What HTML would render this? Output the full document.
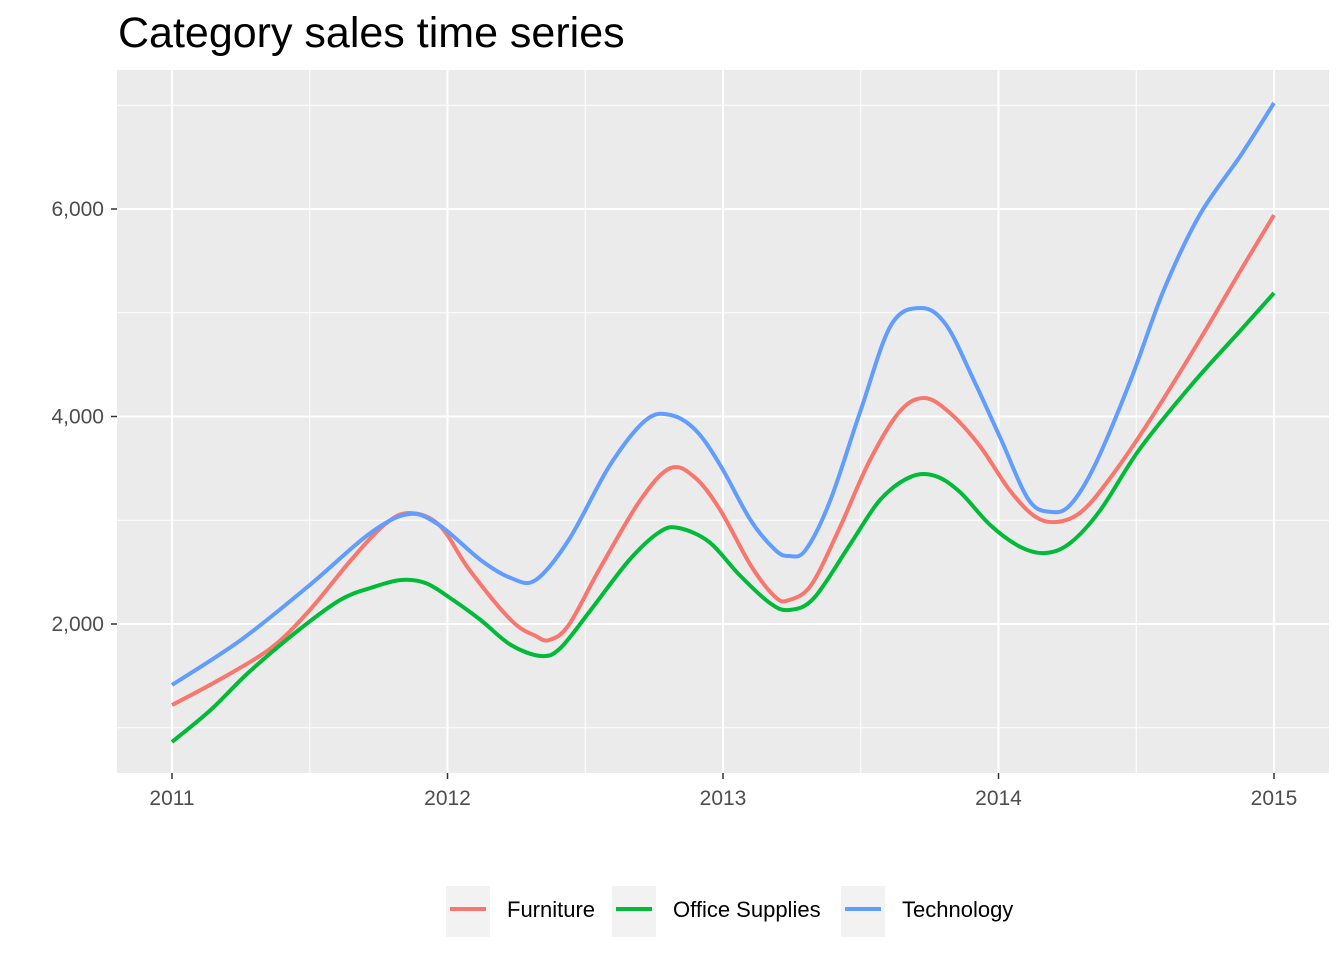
<!DOCTYPE html>
<html><head><meta charset="utf-8"><style>
body{margin:0;background:#fff;font-family:"Liberation Sans",Arial,sans-serif;}
</style></head><body>
<svg id="chart" width="1344" height="960" xmlns="http://www.w3.org/2000/svg">
<text x="118" y="47" font-size="43" fill="#000">Category sales time series</text>
<rect x="117" y="70" width="1212" height="703" fill="#ebebeb"/>
<g id="grid"></g>
<g id="lines"></g>
<g id="axes"></g>
<g id="legend"></g>
</svg>
<script>
const yearTicks = [2011, 2012, 2013, 2014, 2015];
const valueTicks = [2000, 4000, 6000];
const valueTickLabels = ["2,000", "4,000", "6,000"];
const minorValues = [1000, 3000, 5000, 7000];
const seriesNames = ["Furniture", "Office Supplies", "Technology"];
const seriesColors = ["#F8766D", "#00BA38", "#619CFF"];
const furnitureYears = [2011.00,2011.17,2011.36,2011.50,2011.65,2011.77,2011.86,2011.97,2012.08,2012.23,2012.32,2012.37,2012.44,2012.55,2012.70,2012.81,2012.90,2012.99,2013.10,2013.19,2013.24,2013.32,2013.42,2013.53,2013.64,2013.73,2013.82,2013.93,2014.04,2014.13,2014.21,2014.30,2014.40,2014.55,2014.73,2014.88,2015.00];
const furnitureValues = [1219,1460,1769,2135,2617,2954,3070,2954,2520,2039,1884,1846,1990,2520,3195,3504,3407,3099,2569,2260,2231,2376,2906,3561,4043,4178,4043,3724,3292,3041,2983,3080,3388,3966,4737,5412,5942];
const officeYears = [2011.00,2011.14,2011.28,2011.46,2011.61,2011.72,2011.83,2011.92,2012.01,2012.12,2012.23,2012.34,2012.41,2012.52,2012.66,2012.77,2012.84,2012.95,2013.06,2013.17,2013.24,2013.33,2013.46,2013.57,2013.68,2013.77,2013.86,2013.97,2014.08,2014.17,2014.26,2014.37,2014.51,2014.70,2014.88,2015.00];
const officeValues = [863,1171,1537,1942,2231,2347,2424,2395,2250,2039,1798,1692,1769,2135,2617,2887,2925,2790,2472,2202,2135,2250,2761,3195,3417,3427,3272,2954,2742,2684,2780,3099,3677,4304,4834,5190];
const techYears = [2011.00,2011.25,2011.50,2011.72,2011.86,2011.97,2012.12,2012.23,2012.32,2012.44,2012.59,2012.72,2012.81,2012.90,2012.99,2013.10,2013.19,2013.24,2013.30,2013.39,2013.50,2013.61,2013.72,2013.81,2013.91,2014.01,2014.11,2014.19,2014.26,2014.35,2014.48,2014.60,2014.73,2014.88,2015.00];
const techValues = [1412,1846,2376,2877,3060,2954,2617,2443,2424,2810,3532,3966,4014,3870,3532,3002,2713,2655,2713,3195,4063,4882,5046,4882,4352,3773,3195,3080,3147,3532,4352,5219,5942,6520,7022];

const NS = "http://www.w3.org/2000/svg";
const xs = y => 172 + (y - 2011) * 275.5;
const ys = v => 624 - (v - 2000) * 0.10375;
function mk(tag, attrs, parent){const e=document.createElementNS(NS,tag);for(const k in attrs)e.setAttribute(k,attrs[k]);parent.appendChild(e);return e;}
function smooth(p){let d='M'+p[0][0].toFixed(1)+','+p[0][1].toFixed(1);
for(let i=0;i<p.length-1;i++){const p0=p[i-1]||p[i],p1=p[i],p2=p[i+1],p3=p[i+2]||p2;
const c1=[p1[0]+(p2[0]-p0[0])/6,p1[1]+(p2[1]-p0[1])/6],c2=[p2[0]-(p3[0]-p1[0])/6,p2[1]-(p3[1]-p1[1])/6];
d+=' C'+c1.map(v=>v.toFixed(1)).join(',')+' '+c2.map(v=>v.toFixed(1)).join(',')+' '+p2[0].toFixed(1)+','+p2[1].toFixed(1);}
return d;}
const grid=document.getElementById('grid'), lines=document.getElementById('lines'), axes=document.getElementById('axes'), legend=document.getElementById('legend');
minorValues.forEach(v=>{const l=mk('line',{x1:117,x2:1329,y1:ys(v),y2:ys(v),stroke:'#fff','stroke-width':1},grid);

});
for(let i=0;i<yearTicks.length-1;i++){const m=(yearTicks[i]+yearTicks[i+1])/2;const l=mk('line',{x1:xs(m),x2:xs(m),y1:70,y2:773,stroke:'#fff','stroke-width':1},grid);

}
valueTicks.forEach((v,i)=>{const l=mk('line',{x1:117,x2:1329,y1:ys(v),y2:ys(v),stroke:'#fff','stroke-width':2},grid);


const t=mk('line',{x1:111,x2:117,y1:ys(v),y2:ys(v),stroke:'#333','stroke-width':1.5},axes);


const tx=mk('text',{x:104,y:ys(v)+7,'text-anchor':'end','font-size':21,fill:'#4d4d4d'},axes);tx.textContent=valueTickLabels[i];

});
yearTicks.forEach(y=>{const l=mk('line',{x1:xs(y),x2:xs(y),y1:70,y2:773,stroke:'#fff','stroke-width':2},grid);


const t=mk('line',{x1:xs(y),x2:xs(y),y1:773,y2:779,stroke:'#333','stroke-width':1.5},axes);


const tx=mk('text',{x:xs(y),y:805,'text-anchor':'middle','font-size':21,fill:'#4d4d4d'},axes);tx.textContent=String(y);

});
const data=[[furnitureYears,furnitureValues],[officeYears,officeValues],[techYears,techValues]];
data.forEach((d,i)=>{const pts=d[0].map((y,j)=>[xs(y),ys(d[1][j])]);
const p=mk('path',{d:smooth(pts),fill:'none',stroke:seriesColors[i],'stroke-width':4,'stroke-linejoin':'round','stroke-linecap':'butt'},lines);

});
const keyX=[446,612,841];
seriesNames.forEach((n,i)=>{const r=mk('rect',{x:keyX[i],y:886,width:44,height:51,fill:'#f2f2f2'},legend);


const l=mk('line',{x1:keyX[i]+4,x2:keyX[i]+40,y1:909,y2:909,stroke:seriesColors[i],'stroke-width':4},legend);


const t=mk('text',{x:keyX[i]+61,y:917,'font-size':22,fill:'#000'},legend);t.textContent=n;

});
</script>
</body></html>
